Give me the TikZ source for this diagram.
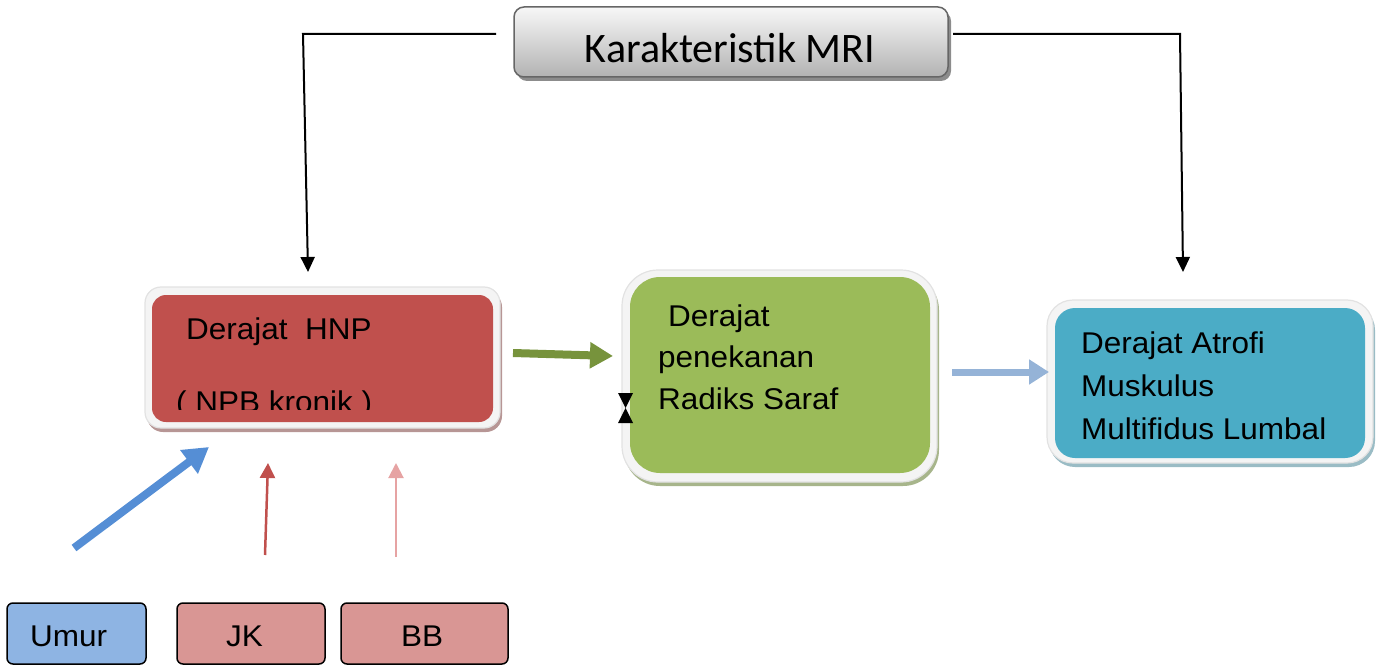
\documentclass[tikz,border=0pt]{standalone}
\usepackage{fontspec}
\setmainfont{Liberation Sans}[FakeStretch=1.05]
\newfontfamily\calib{Carlito}
\usetikzlibrary{shadows,arrows.meta}
\definecolor{hnpred}{HTML}{C0504D}
\definecolor{grn}{HTML}{9BBB59}
\definecolor{aqua}{HTML}{4BACC6}
\definecolor{umurblue}{HTML}{8EB4E3}
\definecolor{pinkbox}{HTML}{D99694}
\definecolor{grnarrow}{HTML}{77933C}
\definecolor{lbarrow}{HTML}{95B3D7}
\definecolor{bluearrow}{HTML}{558ED5}
\definecolor{pinkarrow}{HTML}{E6A3A3}
\definecolor{frameline}{HTML}{E2E2E2}
\definecolor{framefill}{HTML}{F4F4F4}
\begin{document}
\begin{tikzpicture}[x=1pt,y=-1pt,
  frame/.style 2 args={draw=frameline, line width=1.2pt, fill=framefill, rounded corners=#1,
     drop shadow={shadow xshift=2pt, shadow yshift=-4pt, fill=#2, opacity=1}},
  inbox/.style={rounded corners=#1, inner sep=0pt},
  txt/.style={anchor=base west, inner sep=0pt, font=\fontsize{30}{30}\selectfont},
  smallbox/.style={draw=black, line width=1.5pt, rounded corners=6pt, inner sep=0pt, minimum height=61pt},
  blackline/.style={line width=2pt, -{Triangle[length=15pt,width=14pt]}}
]
\useasboundingbox (0,0) rectangle (1376,666);

% MRI box
\node[draw=black!60, line width=1.5pt, rounded corners=10pt, top color=black!3, bottom color=black!30,
      minimum width=434pt, minimum height=70pt, inner sep=0pt,
      drop shadow={shadow xshift=3pt, shadow yshift=-4pt, fill=black!45, opacity=1}] (mri) at (731,42) {};
\node[anchor=base, inner sep=0pt, font=\calib\fontsize{42}{42}\selectfont] (mrit) at (730,63) {Karakteristik MRI};

% HNP
\node[frame={16pt}{black!30!pinkbox!70}, minimum width=355pt, minimum height=141pt] (hnpout) at (322.5,357.5) {};
\node[inbox=14pt, fill=hnpred, minimum width=341pt, minimum height=127pt] (hnp) at (322.5,358.5) {};
\node[txt] (hnpa) at (186,339) {Derajat\ \ HNP};
\begin{scope}
\clip (150,370) rectangle (500,409);
\node[txt] (hnpb) at (176,412) {( NPB kronik )};
\end{scope}

% green
\node[frame={36pt}{black!30!grn!60}, minimum width=315pt, minimum height=212pt] (grnout) at (779.5,376) {};
\node[inbox=30pt, fill=grn, minimum width=300pt, minimum height=196pt] (green) at (780,375) {};
\node[txt] (ga) at (668,326) {Derajat};
\node[txt] (gb) at (658,367) {penekanan};
\node[txt] (gc) at (658,409) {Radiks Saraf};

% blue
\node[frame={26pt}{black!30!aqua!50}, minimum width=326pt, minimum height=163pt] (bluout) at (1210,381.5) {};
\node[inbox=20pt, fill=aqua, minimum width=310pt, minimum height=150pt] (blue) at (1210,383) {};
\node[txt] (ba) at (1081,353) {Derajat Atrofi};
\node[txt] (bb) at (1081,396) {Muskulus};
\node[txt] (bc) at (1081,439) {Multifidus Lumbal};

% bottom boxes
\node[smallbox, fill=umurblue, minimum width=139pt] (umur) at (76.5,633.5) {};
\node[smallbox, fill=pinkbox, minimum width=148pt] (jk) at (251,633.5) {};
\node[smallbox, fill=pinkbox, minimum width=167pt] (bbx) at (424.5,633.5) {};
\node[txt] (umurt) at (30,646) {Umur};
\node[txt] (jkt) at (226,646) {JK};
\node[txt] (bbt) at (401,646) {BB};

% black connectors
\coordinate (l1) at (496,34);
\coordinate (l2) at (303,34);
\coordinate (l3) at (308,272);
\coordinate (r1) at (953,34);
\coordinate (r2) at (1180,34);
\coordinate (r3) at (1183,272);
\draw[blackline] (l1) -- (l2) -- (l3);
\draw[blackline] (r1) -- (r2) -- (r3);

% colored arrows
\coordinate (g1) at (513,353);
\coordinate (g2) at (613,356);
\draw[grnarrow, line width=8pt, -{Triangle[length=23pt,width=25pt]}] (g1) -- (g2);
\coordinate (lb1) at (952,372);
\coordinate (lb2) at (1049,372);
\draw[lbarrow, line width=7pt, -{Triangle[length=20pt,width=24pt]}] (lb1) -- (lb2);
\coordinate (u1) at (74,548);
\coordinate (u2) at (209,447);
\draw[bluearrow, line width=8pt, -{Triangle[length=25pt,width=28pt]}] (u1) -- (u2);
\coordinate (j1) at (265,555);
\coordinate (j2) at (268,463);
\draw[hnpred, line width=2.5pt, -{Triangle[length=15pt,width=15pt]}] (j1) -- (j2);
\coordinate (b1) at (396,557);
\coordinate (b2) at (396,463);
\draw[pinkarrow, line width=2pt, -{Triangle[length=15pt,width=15pt]}] (b1) -- (b2);

% hourglass mark
\fill (618,393) -- (633,393) -- (625.5,408) -- cycle;
\fill (625.5,408) -- (618,423) -- (633,423) -- cycle;
\end{tikzpicture}
\end{document}
